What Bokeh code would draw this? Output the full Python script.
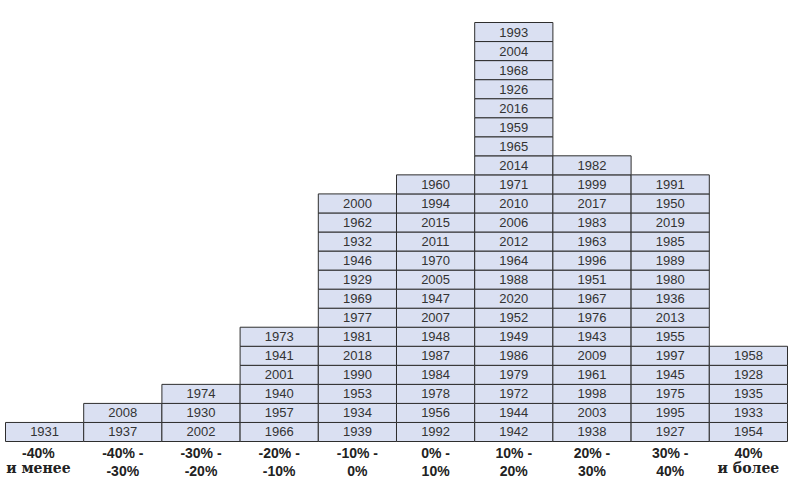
from bokeh.plotting import figure
from bokeh.models import ColumnDataSource, Range1d
from bokeh.core.properties import value
from bokeh.embed import file_html
from bokeh.resources import INLINE

# Return bins (x categories), first and second line of their labels
label_line1 = ["-40%", "-40% -", "-30% -", "-20% -", "-10% -", "0% -", "10% -", "20% -", "30% -", "40%"]
label_line2 = ["и менее", "-30%", "-20%", "-10%", "0%", "10%", "20%", "30%", "40%", "и более"]

# Years falling into each bin, listed bottom to top
bin1 = [1931]
bin2 = [1937, 2008]
bin3 = [2002, 1930, 1974]
bin4 = [1966, 1957, 1940, 2001, 1941, 1973]
bin5 = [1939, 1934, 1953, 1990, 2018, 1981, 1977, 1969, 1929, 1946, 1932, 1962, 2000]
bin6 = [1992, 1956, 1978, 1984, 1987, 1948, 2007, 1947, 2005, 1970, 2011, 2015, 1994, 1960]
bin7 = [1942, 1944, 1972, 1979, 1986, 1949, 1952, 2020, 1988, 1964, 2012, 2006, 2010, 1971,
        2014, 1965, 1959, 2016, 1926, 1968, 2004, 1993]
bin8 = [1938, 2003, 1998, 1961, 2009, 1943, 1976, 1967, 1951, 1996, 1963, 1983, 2017, 1999, 1982]
bin9 = [1927, 1995, 1975, 1945, 1997, 1955, 2013, 1936, 1980, 1989, 1985, 2019, 1950, 1991]
bin10 = [1954, 1933, 1935, 1928, 1958]

bins = [bin1, bin2, bin3, bin4, bin5, bin6, bin7, bin8, bin9, bin10]

xs, ys, txt = [], [], []
for i, col in enumerate(bins):
    for j, yr in enumerate(col):
        xs.append(i + 0.5)
        ys.append(j + 0.5)
        txt.append(str(yr))
cells = ColumnDataSource(dict(x=xs, y=ys, t=txt))

W, H = 795, 481
sx = 78.2
sy = 419 / 22
x0 = -5 / sx
y0 = -(H - 441) / sy
p = figure(width=W, height=H, output_backend="svg", toolbar_location=None,
           x_range=Range1d(x0, x0 + W / sx), y_range=Range1d(y0, y0 + H / sy),
           min_border=0, min_border_left=0, min_border_right=0,
           min_border_top=0, min_border_bottom=0,
           x_axis_location=None, y_axis_location=None)
p.outline_line_color = None
p.xgrid.visible = False
p.ygrid.visible = False
p.background_fill_color = "white"
p.border_fill_color = "white"

p.rect(x="x", y="y", width=1, height=1, source=cells,
       fill_color="#DAE0F2", line_color="#2E2E2E", line_width=1)
p.text(x="x", y="y", text="t", source=cells, text_align="center", text_baseline="middle",
       text_font=value("Liberation Sans"), text_font_size="13px", text_color="#333333")

lx = [i + 0.5 for i in range(10)]
lx[0] = 0.42
f2 = ["Liberation Sans"] * 10
f2[0] = "DejaVu Serif"
f2[-1] = "DejaVu Serif"
yy2 = [-1.57] * 10
yy2[0] = -1.39
yy2[-1] = -1.39
lab1 = ColumnDataSource(dict(x=lx, y=[-0.58] * 10, t=label_line1))
lab2 = ColumnDataSource(dict(x=lx, y=yy2, t=label_line2, f=f2))
p.text(x="x", y="y", text="t", source=lab1, text_align="center", text_baseline="middle",
       text_font=value("Liberation Sans"), text_font_style="bold", text_font_size="14px",
       text_color="#222222")
p.text(x="x", y="y", text="t", source=lab2, text_align="center", text_baseline="middle",
       text_font="f", text_font_style="bold", text_font_size="14px", text_color="#222222")

open("out.html", "w").write(file_html(p, INLINE))
